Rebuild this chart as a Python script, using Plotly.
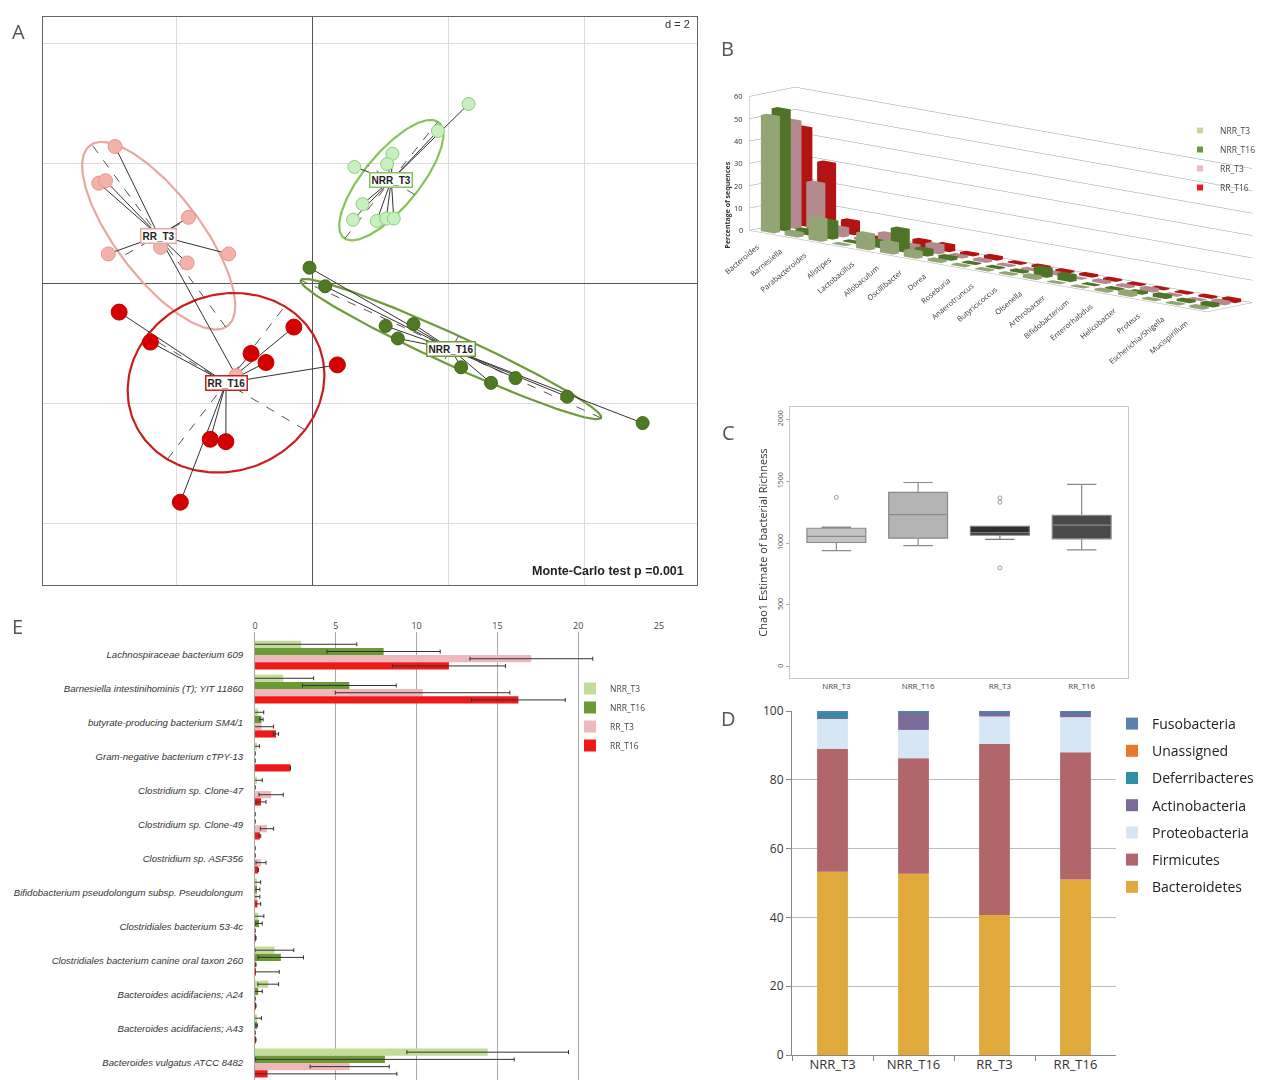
import numpy as np
import plotly.graph_objects as go

W, H = 1267, 1080
OFF = 8                      # page body margin of the browser
FW, FH = W - OFF, H - OFF
FONT = "Open Sans"

# ---------------- Panel A : between-class ordination ----------------
groups = ["NRR_T3", "NRR_T16", "RR_T3", "RR_T16"]
nrr_t3_x = [2.29, 1.84, 1.17, 1.09, 0.61, 0.73, 0.59, 0.94, 1.08, 1.19]
nrr_t3_y = [3.00, 2.55, 2.17, 2.00, 1.95, 1.33, 1.07, 1.05, 1.09, 1.09]
nrr_t16_x = [-0.05, 0.18, 1.07, 1.48, 1.25, 2.18, 2.62, 2.98, 3.74, 4.85]
nrr_t16_y = [0.27, -0.04, -0.70, -0.67, -0.91, -1.39, -1.65, -1.57, -1.88, -2.32]
rr_t3_x = [-2.91, -3.15, -3.05, -1.83, -3.01, -2.24, -1.85, -1.24, -1.13]
rr_t3_y = [2.29, 1.68, 1.72, 1.11, 0.50, 0.61, 0.35, 0.50, -1.53]
rr_t16_x = [-2.85, -2.39, -0.91, -0.69, -0.28, 0.36, -1.51, -1.28, -1.95]
rr_t16_y = [-0.47, -0.97, -1.16, -1.31, -0.72, -1.35, -2.59, -2.63, -3.64]
monte_carlo_p = 0.001
grid_d = 2

# ---------------- Panel B : genus composition ----------------
genera = ["Bacteroides", "Barnesiella", "Parabacteroides", "Alistipes", "Lactobacillus",
          "Allobaculum", "Oscillibacter", "Dorea", "Roseburia", "Anaerotruncus",
          "Butyricicoccus", "Olsenella", "Arthrobacter", "Bifidobacterium", "Enterorhabdus",
          "Helicobacter", "Proteus", "Escherichia/Shigella", "Mucispirillum"]
genus_nrr_t3 = [52, 2, 10, 0.3, 7, 5, 3, 1, 0.5, 0.5, 0.5, 1.5, 0.3, 0.3, 0.8, 2, 0.5, 0.5, 1]
genus_nrr_t16 = [54, 2, 8, 0.5, 3, 10, 3, 1.5, 0.5, 0.5, 0.8, 4, 3, 0.3, 0.5, 1, 1.5, 1, 1.5]
genus_rr_t3 = [48, 22, 4, 1, 5, 2, 4, 1, 1, 0.5, 0.5, 1, 0.3, 1, 0.8, 1.5, 0.5, 0.3, 1.5]
genus_rr_t16 = [44, 30, 6, 0.5, 1, 3, 3, 1, 1.5, 0.5, 1, 0.8, 1, 0.8, 0.5, 0.5, 0.5, 0.8, 1.5]
pct_ticks = [0, 10, 20, 30, 40, 50, 60]

# ---------------- Panel C : Chao1 richness ----------------
chao_q1 = [1005, 1040, 1065, 1035]
chao_median = [1055, 1230, 1085, 1145]
chao_q3 = [1120, 1410, 1135, 1225]
chao_low = [940, 980, 1030, 945]
chao_high = [1130, 1490, 1135, 1475]
chao_out_group = ["NRR_T3", "RR_T3", "RR_T3", "RR_T3"]
chao_out_value = [1370, 1330, 1365, 800]

# ---------------- Panel D : phylum composition (%) ----------------
phyla = ["Bacteroidetes", "Firmicutes", "Proteobacteria", "Actinobacteria",
         "Deferribacteres", "Unassigned", "Fusobacteria"]
phylum_nrr_t3 = [53.3, 35.7, 8.7, 0.4, 1.5, 0.1, 0.3]
phylum_nrr_t16 = [52.7, 33.6, 8.2, 5.2, 0.1, 0.1, 0.1]
phylum_rr_t3 = [40.7, 49.7, 8.0, 1.3, 0.1, 0.1, 0.1]
phylum_rr_t16 = [51.0, 37.0, 10.2, 1.5, 0.1, 0.1, 0.1]

# ---------------- Panel E : species abundance (%) ----------------
species = ["Lachnospiraceae bacterium 609",
           "Barnesiella intestinihominis (T); YIT 11860",
           "butyrate-producing bacterium SM4/1",
           "Gram-negative bacterium cTPY-13",
           "Clostridium sp. Clone-47",
           "Clostridium sp. Clone-49",
           "Clostridium sp. ASF356",
           "Bifidobacterium pseudolongum subsp. Pseudolongum",
           "Clostridiales bacterium 53-4c",
           "Clostridiales bacterium canine oral taxon 260",
           "Bacteroides acidifaciens; A24",
           "Bacteroides acidifaciens; A43",
           "Bacteroides vulgatus ATCC 8482"]
sp_nrr_t3 = [2.85, 1.75, 0.2, 0.1, 0.1, 0.0, 0.0, 0.1, 0.2, 1.2, 0.82, 0.1, 14.4]
sp_nrr_t3_err = [3.45, 1.88, 0.34, 0.17, 0.35, 0.0, 0.0, 0.25, 0.35, 1.2, 0.64, 0.3, 5.0]
sp_nrr_t16 = [7.96, 5.84, 0.4, 0.0, 0.0, 0.0, 0.0, 0.1, 0.25, 1.6, 0.2, 0.1, 8.04]
sp_nrr_t16_err = [3.5, 2.9, 0.1, 0.0, 0.0, 0.0, 0.0, 0.2, 0.2, 1.4, 0.25, 0.05, 8.0]
sp_rr_t3 = [17.1, 10.37, 0.4, 0.0, 1.0, 0.74, 0.37, 0.1, 0.0, 0.05, 0.0, 0.0, 5.86]
sp_rr_t3_err = [3.8, 5.4, 0.75, 0.0, 0.75, 0.41, 0.31, 0.2, 0.0, 0.0, 0.0, 0.0, 2.45]
sp_rr_t16 = [12.0, 16.3, 1.3, 2.19, 0.37, 0.3, 0.2, 0.15, 0.05, 0.05, 0.05, 0.05, 0.78]
sp_rr_t16_err = [3.5, 2.9, 0.16, 0.0, 0.31, 0.05, 0.0, 0.2, 0.0, 1.45, 0.0, 0.0, 8.0]

# ---------------- colours ----------------
grp_fill = {"NRR_T3": "#c8efc0", "NRR_T16": "#4d7a22", "RR_T3": "#f4b3aa", "RR_T16": "#d40000"}
grp_edge = {"NRR_T3": "#8ccf7a", "NRR_T16": "#41691c", "RR_T3": "#e8938a", "RR_T16": "#c00000"}
grp_ell = {"NRR_T3": "#86c45a", "NRR_T16": "#6f9a3c", "RR_T3": "#e8a8a2", "RR_T16": "#c81e1e"}
bar_col = {"NRR_T3": "#c4dc9a", "NRR_T16": "#6a9a34", "RR_T3": "#efb8bc", "RR_T16": "#ee1a1a"}
phy_col = ["#dfa93c", "#b0666a", "#d7e6f4", "#7b6b9a", "#2f8fa5", "#e8782a", "#5b7fae"]


def px(xp):
    return min(1.0, max(0.0, (xp - OFF) / FW))


def py(yp):
    return min(1.0, max(0.0, 1 - (yp - OFF) / FH))


fig = go.Figure()

# ======== Panel A ========
pa = {"NRR_T3": (nrr_t3_x, nrr_t3_y), "NRR_T16": (nrr_t16_x, nrr_t16_y),
      "RR_T3": (rr_t3_x, rr_t3_y), "RR_T16": (rr_t16_x, rr_t16_y)}
centroids = {}
for g in groups:
    x = np.array(pa[g][0]); y = np.array(pa[g][1])
    cx, cy = x.mean(), y.mean()
    centroids[g] = (cx, cy)
    cov = np.cov(np.vstack([x, y]), bias=True)
    vals, vecs = np.linalg.eigh(cov)
    a1 = 1.5 * np.sqrt(max(vals[1], 0)); a2 = 1.5 * np.sqrt(max(vals[0], 0))
    v1 = vecs[:, 1]; v2 = vecs[:, 0]
    t = np.linspace(0, 2 * np.pi, 200)
    ex = cx + a1 * np.cos(t) * v1[0] + a2 * np.sin(t) * v2[0]
    ey = cy + a1 * np.cos(t) * v1[1] + a2 * np.sin(t) * v2[1]
    fig.add_trace(go.Scatter(x=ex, y=ey, mode="lines", line=dict(color=grp_ell[g], width=2.2),
                             xaxis="x", yaxis="y", showlegend=False, hoverinfo="skip"))
    axx = [cx - a1 * v1[0], cx + a1 * v1[0], None, cx - a2 * v2[0], cx + a2 * v2[0]]
    axy = [cy - a1 * v1[1], cy + a1 * v1[1], None, cy - a2 * v2[1], cy + a2 * v2[1]]
    fig.add_trace(go.Scatter(x=axx, y=axy, mode="lines", line=dict(color="#555", width=1, dash="dash"),
                             xaxis="x", yaxis="y", showlegend=False, hoverinfo="skip"))
for g in groups:
    x, y = pa[g]; cx, cy = centroids[g]
    sx, sy = [], []
    for xi, yi in zip(x, y):
        sx += [cx, xi, None]; sy += [cy, yi, None]
    fig.add_trace(go.Scatter(x=sx, y=sy, mode="lines", line=dict(color="#333", width=1),
                             xaxis="x", yaxis="y", showlegend=False, hoverinfo="skip"))
for g in groups:
    x, y = pa[g]
    size = {"NRR_T3": 13, "NRR_T16": 13, "RR_T3": 14, "RR_T16": 16}[g]
    fig.add_trace(go.Scatter(x=x, y=y, mode="markers",
                             marker=dict(size=size, color=grp_fill[g], line=dict(color=grp_edge[g], width=1)),
                             xaxis="x", yaxis="y", showlegend=False, name=g))
for g in groups:
    cx, cy = centroids[g]
    fig.add_annotation(x=cx, y=cy, xref="x", yref="y", text="<b>%s</b>" % g, showarrow=False,
                       font=dict(size=10, color="#222", family="Liberation Sans"),
                       bgcolor="white", bordercolor=grp_ell[g], borderwidth=1.5, borderpad=1)

fig.update_layout(
    xaxis=dict(domain=[px(43), px(697)], range=[-3.97, 5.65], dtick=grid_d, tick0=0,
               showgrid=True, gridcolor="#dcdcdc", gridwidth=1, zeroline=True, zerolinecolor="#555",
               zerolinewidth=1.2, showticklabels=False, ticks="", showline=True, linecolor="#666",
               mirror=True, anchor="y", fixedrange=True),
    yaxis=dict(domain=[py(585), py(17)], range=[-5.02, 4.45], dtick=grid_d, tick0=0,
               showgrid=True, gridcolor="#dcdcdc", gridwidth=1, zeroline=True, zerolinecolor="#555",
               zerolinewidth=1.2, showticklabels=False, ticks="", showline=True, linecolor="#666",
               mirror=True, anchor="x", fixedrange=True),
)
fig.add_annotation(x=px(692), y=py(24), xref="paper", yref="paper", xanchor="right", yanchor="middle",
                   text="d = %d" % grid_d, showarrow=False, font=dict(size=11, color="#333", family="Liberation Sans"))
fig.add_annotation(x=px(686), y=py(571), xref="paper", yref="paper", xanchor="right", yanchor="middle",
                   text="<b>Monte-Carlo test p =%.3f</b>" % monte_carlo_p, showarrow=False,
                   font=dict(size=12.5, color="#222", family="Liberation Sans"))

# ======== Panel B (3D columns) ========
faces = [(0, 1, 2), (0, 2, 3), (4, 5, 6), (4, 6, 7), (0, 1, 5), (0, 5, 4), (1, 2, 6), (1, 6, 5),
         (2, 3, 7), (2, 7, 6), (3, 0, 4), (3, 4, 7)]


def columns(vals, j, w=0.55, d=0.55):
    X, Y, Z, I, J, K = [], [], [], [], [], []
    for i, v in enumerate(vals):
        b = len(X)
        for z in (0, v):
            for sx_, sy_ in ((-1, -1), (1, -1), (1, 1), (-1, 1)):
                X.append(i + sx_ * w / 2); Y.append(j + sy_ * d / 2); Z.append(z)
        for f in faces:
            I.append(b + f[0]); J.append(b + f[1]); K.append(b + f[2])
    return X, Y, Z, I, J, K


for j, (g, vals) in enumerate(zip(groups, [genus_nrr_t3, genus_nrr_t16, genus_rr_t3, genus_rr_t16])):
    X, Y, Z, I, J, K = columns(vals, j)
    fig.add_trace(go.Mesh3d(x=X, y=Y, z=Z, i=I, j=J, k=K, color=bar_col[g], flatshading=True,
                            lighting=dict(ambient=0.75, diffuse=0.45, specular=0.1, roughness=0.8),
                            lightposition=dict(x=-100, y=-300, z=200),
                            scene="scene", showlegend=False, hoverinfo="skip"))

ax3 = dict(showbackground=True, backgroundcolor="white", showspikes=False, zeroline=False,
           title=dict(text=""), showline=True, linecolor="#aaa", showgrid=False,
           ticks="", showticklabels=False)
eye_d = 1.75
x_lo, y_lo = -0.6, -0.6
genus_labels = [dict(x=i, y=y_lo, z=0, text=gname, textangle=-40, xanchor="right", yanchor="top",
                     yshift=-6, showarrow=False, font=dict(size=7.5, color="#333", family=FONT))
                for i, gname in enumerate(genera)]
pct_labels = [dict(x=x_lo, y=y_lo, z=v, text=str(v), xanchor="right", yanchor="middle", xshift=-5,
                   showarrow=False, font=dict(size=7.5, color="#333", family=FONT))
              for v in pct_ticks]
fig.update_layout(scene=dict(
    domain=dict(x=[px(735), 1.0], y=[py(362), py(37)]),
    xaxis=dict(ax3, range=[x_lo, len(genera) - 0.4]),
    yaxis=dict(ax3, range=[y_lo, 3.6]),
    zaxis=dict(ax3, range=[0, 60], tickvals=pct_ticks, showgrid=True, gridcolor="#9a9a9a", gridwidth=1,
               showbackground=False, showticklabels=False),
    aspectmode="manual", aspectratio=dict(x=3.85, y=0.41, z=0.84),
    camera=dict(eye=dict(x=0.670 * eye_d, y=-0.718 * eye_d, z=0.191 * eye_d), center=dict(x=0, y=0, z=0),
                up=dict(x=0, y=0, z=1), projection=dict(type="orthographic")),
    annotations=genus_labels + pct_labels,
    bgcolor="rgba(0,0,0,0)"))
fig.add_annotation(x=px(727), y=py(160), xref="paper", yref="paper", text="<b>Percentage of sequences</b>",
                   textangle=-90, showarrow=False, font=dict(size=7, color="#333", family=FONT))
for g in groups:
    fig.add_trace(go.Scatter(x=[None], y=[None], mode="markers", name=g,
                             marker=dict(symbol="square", size=6, color=bar_col[g]),
                             xaxis="x", yaxis="y", legend="legend4"))

# ======== Panel C (boxplot) ========
box_fill = ["#c4c4c4", "#b4b4b4", "#2e2e2e", "#4a4a4a"]
box_line = ["#8a8a8a", "#8a8a8a", "#7a7a7a", "#8a8a8a"]
for k, g in enumerate(groups):
    fig.add_trace(go.Box(x=[g], q1=[chao_q1[k]], median=[chao_median[k]], q3=[chao_q3[k]],
                         lowerfence=[chao_low[k]], upperfence=[chao_high[k]],
                         fillcolor=box_fill[k], line=dict(color=box_line[k], width=1.2),
                         width=0.72, boxpoints=False, xaxis="x3", yaxis="y3", showlegend=False,
                         name=g))
fig.add_trace(go.Scatter(x=chao_out_group, y=chao_out_value, mode="markers",
                         marker=dict(symbol="circle-open", size=4, color="#999"),
                         xaxis="x3", yaxis="y3", showlegend=False))
fig.update_layout(
    xaxis3=dict(domain=[px(790), px(1128)], type="category", categoryorder="array", categoryarray=groups,
                showline=True, linecolor="#c8c8c8", mirror=True, ticks="", anchor="y3",
                tickfont=dict(size=8, color="#444", family=FONT), fixedrange=True),
    yaxis3=dict(domain=[py(678), py(407)], range=[-90, 2100], tickvals=[0, 500, 1000, 1500, 2000],
                tickangle=-90, showline=True, linecolor="#c8c8c8", mirror=True, showgrid=False,
                zeroline=False, ticks="outside", ticklen=3, tickcolor="#aaa", anchor="x3",
                tickfont=dict(size=7, color="#555", family=FONT),
                title=dict(text="Chao1 Estimate of bacterial Richness", standoff=6,
                           font=dict(size=11, color="#333", family=FONT)), fixedrange=True),
)

# ======== Panel D (stacked bars) ========
phy_rows = [phylum_nrr_t3, phylum_nrr_t16, phylum_rr_t3, phylum_rr_t16]
cum = np.zeros(len(groups))
for p, name in enumerate(phyla):
    vals = np.array([r[p] for r in phy_rows])
    fig.add_trace(go.Bar(x=groups, y=vals, base=cum.copy(), name=name, offsetgroup="phyla",
                         marker=dict(color=phy_col[p], line=dict(width=0)),
                         xaxis="x4", yaxis="y4", legend="legend2", legendgroup=name,
                         legendrank=100 * (len(phyla) - p), width=0.38))
    cum = cum + vals
fig.update_layout(
    xaxis4=dict(domain=[px(792), px(1116)], type="category", showline=True, linecolor="#888",
                ticks="outside", tickson="boundaries", ticklen=5, tickcolor="#888", anchor="y4",
                ticklabelstandoff=-3,
                tickfont=dict(size=13, color="#333", family=FONT), fixedrange=True),
    yaxis4=dict(domain=[py(1055), py(711)], range=[0, 100], dtick=20, showgrid=True, gridcolor="#bbb",
                showline=True, linecolor="#888", ticks="outside", ticklen=5, tickcolor="#888",
                zeroline=False, anchor="x4", tickfont=dict(size=12, color="#333", family=FONT),
                fixedrange=True),
)

# ======== Panel E (horizontal bars) ========
sp_vals = [sp_nrr_t3, sp_nrr_t16, sp_rr_t3, sp_rr_t16]
sp_errs = [sp_nrr_t3_err, sp_nrr_t16_err, sp_rr_t3_err, sp_rr_t16_err]
for k, g in enumerate(groups):
    fig.add_trace(go.Bar(y=species, x=sp_vals[k], orientation="h", name=g,
                         marker=dict(color=bar_col[g], line=dict(width=0)),
                         error_x=dict(type="data", array=sp_errs[k], color="#333", thickness=1, width=2),
                         xaxis="x5", yaxis="y5", legend="legend3"))
fig.update_layout(
    xaxis5=dict(domain=[px(255), px(659)], range=[0, 25], dtick=5, side="top", showgrid=True,
                gridcolor="#a8a8a8", zeroline=False, showline=False, ticks="", anchor="y5",
                tickfont=dict(size=9, color="#444", family=FONT), fixedrange=True),
    yaxis5=dict(domain=[0, py(632)], type="category", range=[12.5, -0.68], showgrid=False,
                showline=True, linecolor="#a8a8a8", ticks="", anchor="x5", ticklabelstandoff=9,
                tickprefix="<i>", ticksuffix="</i>",
                tickfont=dict(size=9.6, color="#333", family="Liberation Sans"), fixedrange=True),
    barmode="group",
    bargap=0.15, bargroupgap=0.0,
)

# ======== panel letters ========
for letter, (lx, ly) in {"A": (18, 31), "B": (727, 48), "C": (728, 433), "D": (728, 718), "E": (17, 626)}.items():
    fig.add_annotation(x=px(lx), y=py(ly), xref="paper", yref="paper", text=letter, showarrow=False,
                       xanchor="center", yanchor="middle", font=dict(size=20, color="#555", family=FONT))

fig.update_layout(
    width=FW, height=FH, margin=dict(l=0, r=0, t=0, b=0, autoexpand=False),
    paper_bgcolor="white", plot_bgcolor="white", font=dict(family=FONT),
    legend2=dict(x=px(1112), y=py(708), xanchor="left", yanchor="top", traceorder="grouped",
                 tracegroupgap=6, font=dict(size=14, color="#222", family=FONT), itemwidth=30,
                 bgcolor="rgba(0,0,0,0)"),
    legend3=dict(x=px(570), y=py(674), xanchor="left", yanchor="top", tracegroupgap=2,
                 font=dict(size=8.5, color="#444", family=FONT), bgcolor="rgba(0,0,0,0)"),
    legend4=dict(x=px(1180), y=py(116), xanchor="left", yanchor="top",
                 font=dict(size=8.5, color="#444", family=FONT), bgcolor="rgba(0,0,0,0)"),
    showlegend=True,
)

fig.write_html("out.html")
